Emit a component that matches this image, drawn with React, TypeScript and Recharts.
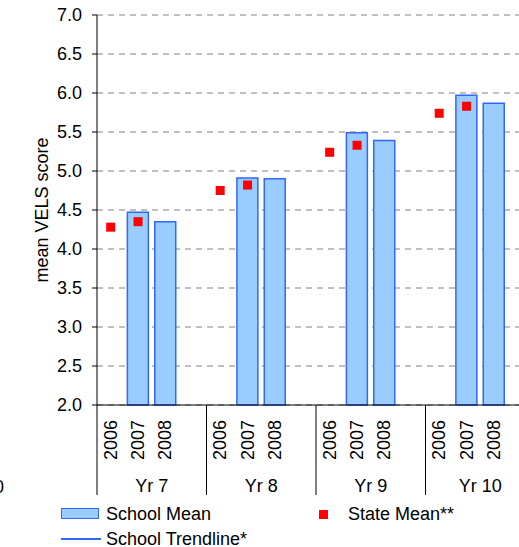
import React from 'react';
import { Bar, CartesianGrid, ComposedChart, Line, XAxis, YAxis } from 'recharts';

const GROUPS = ['Yr 7', 'Yr 8', 'Yr 9', 'Yr 10'];
const YEARS = ['2006', '2007', '2008'];
const SCHOOL_MEAN: (number | null)[][] = [
  [null, 4.47, 4.35],
  [null, 4.91, 4.9],
  [null, 5.49, 5.39],
  [null, 5.97, 5.87],
];
const STATE_MEAN: (number | null)[][] = [
  [4.28, 4.35, null],
  [4.75, 4.82, null],
  [5.24, 5.33, null],
  [5.74, 5.83, null],
];
const Y_TICKS = [2, 2.5, 3, 3.5, 4, 4.5, 5, 5.5, 6, 6.5, 7];
const SCHOOL_NAME = 'School Mean';
const STATE_NAME = 'State Mean**';
const TREND_NAME = 'School Trendline*';

const FONT = 'Arial, "Liberation Sans", sans-serif';
const BAR_FILL = '#99CCFF';
const BAR_STROKE = '#3366FF';
const STATE_COLOR = '#FF0000';
const PLOT_W = 438;

// each year group gets an empty slot after 2008, like the Excel original
const rows = GROUPS.flatMap((group, g) => [
  ...YEARS.map((year, i) => ({
    key: `${group}-${year}`,
    group,
    year,
    slot: i,
    school: SCHOOL_MEAN[g][i],
    state: STATE_MEAN[g][i],
  })),
  { key: `${group}-gap`, group, year: '', slot: 3, school: null, state: null },
]);
const rowByKey = new Map(rows.map((r) => [r.key, r]));

const CategoryTick = (props: any) => {
  const { x, y, payload } = props;
  const row = rowByKey.get(payload.value);
  if (!row) return null;
  const half = payload.offset ?? PLOT_W / rows.length / 2;
  const isLast = row.key === rows[rows.length - 1].key;
  return (
    <g>
      {row.slot === 0 && <line x1={x - half} x2={x - half} y1={y} y2={y + 90} stroke="#000" />}
      {isLast && <line x1={x + half} x2={x + half} y1={y} y2={y + 90} stroke="#000" />}
      {row.year && (
        <text
          x={x}
          y={y + 15}
          transform={`rotate(-90 ${x} ${y + 15})`}
          textAnchor="end"
          dominantBaseline="central"
          fontSize={18}
          fill="#000"
        >
          {row.year}
        </text>
      )}
      {row.slot === 1 && (
        <text x={x + half} y={y + 81} textAnchor="middle" dominantBaseline="central" fontSize={18} fill="#000">
          {row.group}
        </text>
      )}
    </g>
  );
};

const StateDot = (props: any) => {
  const { cx, cy, value, index } = props;
  if (value == null || cx == null || cy == null) return <g key={`s-${index}`} />;
  return <rect key={`s-${index}`} x={cx - 4.5} y={cy - 4.5} width={9} height={9} fill={STATE_COLOR} />;
};

const legendText: React.CSSProperties = {
  position: 'absolute',
  fontSize: 18,
  lineHeight: '16px',
  color: '#000',
  whiteSpace: 'nowrap',
};

export default function App() {
  return (
    <div
      style={{
        position: 'absolute',
        left: 0,
        top: 0,
        width: 519,
        height: 547,
        overflow: 'hidden',
        background: '#fff',
        fontFamily: FONT,
      }}
    >
      <span style={{ ...legendText, left: -6, top: 479 }}>0</span>
      <ComposedChart width={540} height={500} data={rows} margin={{ top: 15, right: 5, left: 0, bottom: 0 }}>
        <CartesianGrid vertical={false} stroke="#808080" strokeDasharray="6 5" />
        <XAxis
          dataKey="key"
          interval={0}
          height={95}
          tickSize={0}
          tickMargin={0}
          tickLine={false}
          axisLine={{ stroke: '#000' }}
          tick={<CategoryTick />}
        />
        <YAxis
          domain={[2, 7]}
          ticks={Y_TICKS}
          interval={0}
          width={97}
          tickSize={5}
          tickMargin={10}
          axisLine={{ stroke: '#000' }}
          tickLine={{ stroke: '#000' }}
          tick={{ fill: '#000', fontSize: 18 }}
          tickFormatter={(v: number) => v.toFixed(1)}
          label={{
            value: 'mean VELS score',
            angle: -90,
            position: 'insideLeft',
            offset: 42,
            style: { textAnchor: 'middle', fontSize: 18, fill: '#000' },
          }}
        />
        <Bar
          dataKey="school"
          name={SCHOOL_NAME}
          barSize={21}
          fill={BAR_FILL}
          stroke={BAR_STROKE}
          strokeWidth={1.5}
          isAnimationActive={false}
        />
        <Line
          dataKey="state"
          name={STATE_NAME}
          stroke="none"
          dot={<StateDot />}
          activeDot={false}
          isAnimationActive={false}
        />
      </ComposedChart>
      <div
        style={{
          position: 'absolute',
          left: 61,
          top: 508,
          width: 36,
          height: 9,
          background: BAR_FILL,
          border: `1.5px solid ${BAR_STROKE}`,
        }}
      />
      <span style={{ ...legendText, left: 106, top: 506 }}>{SCHOOL_NAME}</span>
      <div style={{ position: 'absolute', left: 61, top: 538, width: 40, height: 2, background: BAR_STROKE }} />
      <span style={{ ...legendText, left: 106, top: 531 }}>{TREND_NAME}</span>
      <div style={{ position: 'absolute', left: 319, top: 510, width: 9, height: 9, background: STATE_COLOR }} />
      <span style={{ ...legendText, left: 348, top: 506 }}>{STATE_NAME}</span>
    </div>
  );
}
